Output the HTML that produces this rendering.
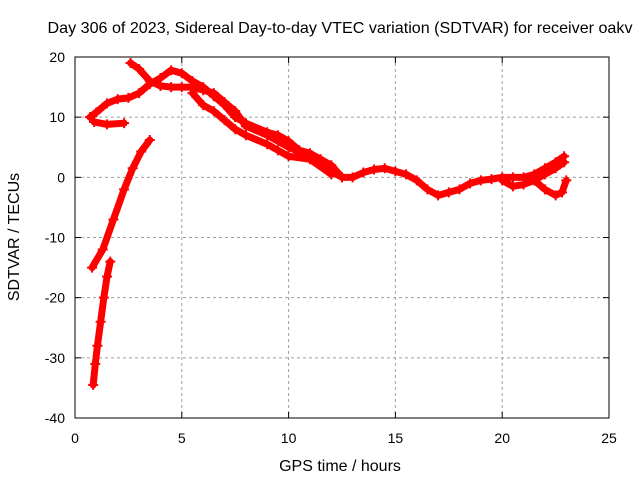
<!DOCTYPE html>
<html><head><meta charset="utf-8"><style>
body{margin:0;background:#fff;}
svg{display:block;font-family:"Liberation Sans",sans-serif;}
</style></head><body>
<svg id="chart" width="640" height="480" xmlns="http://www.w3.org/2000/svg">
<text x="340" y="33" text-anchor="middle" font-size="16" textLength="585" lengthAdjust="spacingAndGlyphs">Day 306 of 2023, Sidereal Day-to-day VTEC variation (SDTVAR) for receiver oakv</text>
<text x="340" y="471" text-anchor="middle" font-size="16">GPS time / hours</text>
<text transform="translate(19,237) rotate(-90)" text-anchor="middle" font-size="16">SDTVAR / TECUs</text>
<g id="grid"></g><g id="marks"></g>
<rect x="75" y="57" width="534" height="361" fill="none" stroke="#000"/>
</svg>
<script>
const xTicks=[0,5,10,15,20,25];
const yTicks=[20,10,0,-10,-20,-30,-40];
const seriesA=[[0.85,-34.5],[0.95,-31],[1.05,-28],[1.2,-24],[1.35,-20],[1.5,-16.5],[1.65,-14]];
const seriesB=[[0.8,-15],[1.3,-12],[1.8,-7],[2.3,-2],[2.7,1.5],[3.1,4.3],[3.5,6.2]];
const seriesC=[[0.7,10],[1.0,10.8],[1.5,12.3],[2.0,13],[2.5,13.2],[3,14],[3.5,15.5],[4,16.5],[4.5,17.8],[5,17.3],[5.5,16],[6,15],[6.5,13.5],[7,12],[7.5,10],[8,9],[9,7.5],[9.5,7],[10,6],[10.5,4.5],[11,4],[11.5,3],[12,2],[12.5,0],[13,0],[13.5,0.8],[14,1.3],[14.5,1.5],[15,1],[15.5,0.5],[16,-0.5],[16.5,-2],[17,-3],[17.5,-2.5],[18,-2],[18.5,-1],[19,-0.5],[19.5,-0.3],[20,0],[20.5,0],[21,0],[21.5,0.5],[22,1.5],[22.5,2.5],[22.9,3.5]];
const seriesD=[[0.9,9.2],[1.5,8.8],[2.3,9]];
const seriesE=[[2.6,19],[3,18],[3.5,16],[4,15.2],[4.5,15],[5,15],[5.5,15],[6,14.5],[6.5,14],[7,12.5],[7.5,11],[8,8.5],[9,7],[10,5],[11,3.5],[12,1],[12.5,0]];
const seriesF=[[5.5,14],[6,12],[6.5,11],[7,9.5],[7.5,8],[8,7],[9,5.5],[9.5,4.5],[10,3.5],[11,3],[12,0.5]];
const seriesG=[[20,-0.5],[20.5,-1.5],[21,-1.2],[21.5,-0.5],[22,0.5],[22.5,1.5],[22.9,2.5]];
const seriesH=[[21.5,-0.5],[22,-2],[22.5,-3],[22.8,-2.5],[23,-0.5]];
const allSeries=[seriesA,seriesB,seriesC,seriesD,seriesE,seriesF,seriesG,seriesH];
const NS="http://www.w3.org/2000/svg";
const X0=75,X1=609,Y0=57,Y1=418;
function sx(v){return X0+(v-0)/(25-0)*(X1-X0);}
function sy(v){return Y1-(v-(-40))/(20-(-40))*(Y1-Y0);}
const grid=document.getElementById('grid'),marks=document.getElementById('marks');
function el(t,a,p){const e=document.createElementNS(NS,t);for(const k in a)e.setAttribute(k,a[k]);p.appendChild(e);return e;}
xTicks.forEach(v=>{
 const x=sx(v);
 if(v>0&&v<25){const g=el('line',{x1:x,x2:x,y1:Y0,y2:Y1,stroke:'#a0a0a0','stroke-dasharray':'3,3'},grid);
 
 }
 el('line',{x1:x,x2:x,y1:Y1,y2:Y1-6,stroke:'#000'},grid);
 el('line',{x1:x,x2:x,y1:Y0,y2:Y0+6,stroke:'#000'},grid);
 const t=el('text',{x:x,y:Y1+25,'text-anchor':'middle','font-size':14},grid);t.textContent=v;
 
 
});
yTicks.forEach(v=>{
 const y=sy(v);
 if(v>-40&&v<20){const g=el('line',{x1:X0,x2:X1,y1:y,y2:y,stroke:'#a0a0a0','stroke-dasharray':'3,3'},grid);
 
 }
 el('line',{x1:X0,x2:X0+6,y1:y,y2:y,stroke:'#000'},grid);
 el('line',{x1:X1,x2:X1-6,y1:y,y2:y,stroke:'#000'},grid);
 const t=el('text',{x:X0-10,y:y+5,'text-anchor':'end','font-size':14},grid);t.textContent=v;
 
 
});
allSeries.forEach((s,i)=>{
 const p=el('polyline',{points:s.map(d=>sx(d[0])+','+sy(d[1])).join(' '),fill:'none',stroke:'#ff0000','stroke-width':7,'stroke-linejoin':'round','stroke-linecap':'round'},marks);
 
 
 s.forEach(d=>{
  const x=sx(d[0]),y=sy(d[1]);
  const m=el('path',{d:`M${x-5},${y}H${x+5}M${x},${y-5}V${y+5}`,stroke:'#ff0000','stroke-width':2},marks);
  
  
 });
});
</script>
</body></html>
